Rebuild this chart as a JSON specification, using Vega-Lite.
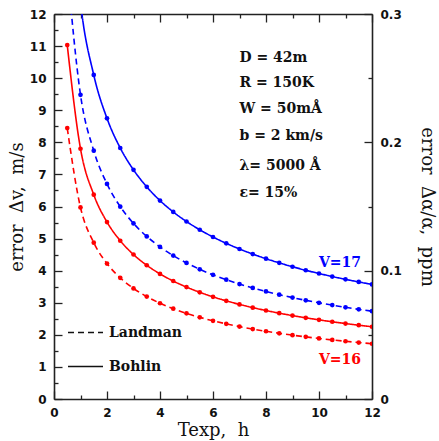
{
  "$schema": "https://vega.github.io/schema/vega-lite/v6.json",
  "width": 318,
  "height": 385,
  "autosize": {"type": "none"},
  "padding": {"left": 54, "top": 14, "right": 67, "bottom": 42},
  "background": "white",
  "config": {
    "view": {"stroke": null},
    "axis": {
      "grid": false,
      "domainColor": "#222",
      "domainWidth": 1.6,
      "tickColor": "#222",
      "tickWidth": 1.3,
      "labelFont": "DejaVu Sans",
      "labelFontSize": 12,
      "labelFontWeight": "bold",
      "labelColor": "#111",
      "labelFlush": false,
      "labelOverlap": false,
      "titleFont": "DejaVu Serif",
      "titleFontSize": 18,
      "titleFontWeight": "normal",
      "titleColor": "#111"
    }
  },
  "datasets": {
    "curves": [
      {"t": 0.5, "err": 11.031, "V": "V=16", "method": "Bohlin"},
      {"t": 1.0, "err": 7.800, "V": "V=16", "method": "Bohlin"},
      {"t": 1.5, "err": 6.369, "V": "V=16", "method": "Bohlin"},
      {"t": 2.0, "err": 5.515, "V": "V=16", "method": "Bohlin"},
      {"t": 2.5, "err": 4.933, "V": "V=16", "method": "Bohlin"},
      {"t": 3.0, "err": 4.503, "V": "V=16", "method": "Bohlin"},
      {"t": 3.5, "err": 4.169, "V": "V=16", "method": "Bohlin"},
      {"t": 4.0, "err": 3.900, "V": "V=16", "method": "Bohlin"},
      {"t": 4.5, "err": 3.677, "V": "V=16", "method": "Bohlin"},
      {"t": 5.0, "err": 3.488, "V": "V=16", "method": "Bohlin"},
      {"t": 5.5, "err": 3.326, "V": "V=16", "method": "Bohlin"},
      {"t": 6.0, "err": 3.184, "V": "V=16", "method": "Bohlin"},
      {"t": 6.5, "err": 3.059, "V": "V=16", "method": "Bohlin"},
      {"t": 7.0, "err": 2.948, "V": "V=16", "method": "Bohlin"},
      {"t": 7.5, "err": 2.848, "V": "V=16", "method": "Bohlin"},
      {"t": 8.0, "err": 2.758, "V": "V=16", "method": "Bohlin"},
      {"t": 8.5, "err": 2.675, "V": "V=16", "method": "Bohlin"},
      {"t": 9.0, "err": 2.600, "V": "V=16", "method": "Bohlin"},
      {"t": 9.5, "err": 2.531, "V": "V=16", "method": "Bohlin"},
      {"t": 10.0, "err": 2.467, "V": "V=16", "method": "Bohlin"},
      {"t": 10.5, "err": 2.407, "V": "V=16", "method": "Bohlin"},
      {"t": 11.0, "err": 2.352, "V": "V=16", "method": "Bohlin"},
      {"t": 11.5, "err": 2.300, "V": "V=16", "method": "Bohlin"},
      {"t": 12.0, "err": 2.252, "V": "V=16", "method": "Bohlin"},
      {"t": 0.5, "err": 8.443, "V": "V=16", "method": "Landman"},
      {"t": 1.0, "err": 5.970, "V": "V=16", "method": "Landman"},
      {"t": 1.5, "err": 4.874, "V": "V=16", "method": "Landman"},
      {"t": 2.0, "err": 4.221, "V": "V=16", "method": "Landman"},
      {"t": 2.5, "err": 3.776, "V": "V=16", "method": "Landman"},
      {"t": 3.0, "err": 3.447, "V": "V=16", "method": "Landman"},
      {"t": 3.5, "err": 3.191, "V": "V=16", "method": "Landman"},
      {"t": 4.0, "err": 2.985, "V": "V=16", "method": "Landman"},
      {"t": 4.5, "err": 2.814, "V": "V=16", "method": "Landman"},
      {"t": 5.0, "err": 2.670, "V": "V=16", "method": "Landman"},
      {"t": 5.5, "err": 2.546, "V": "V=16", "method": "Landman"},
      {"t": 6.0, "err": 2.437, "V": "V=16", "method": "Landman"},
      {"t": 6.5, "err": 2.342, "V": "V=16", "method": "Landman"},
      {"t": 7.0, "err": 2.256, "V": "V=16", "method": "Landman"},
      {"t": 7.5, "err": 2.180, "V": "V=16", "method": "Landman"},
      {"t": 8.0, "err": 2.111, "V": "V=16", "method": "Landman"},
      {"t": 8.5, "err": 2.048, "V": "V=16", "method": "Landman"},
      {"t": 9.0, "err": 1.990, "V": "V=16", "method": "Landman"},
      {"t": 9.5, "err": 1.937, "V": "V=16", "method": "Landman"},
      {"t": 10.0, "err": 1.888, "V": "V=16", "method": "Landman"},
      {"t": 10.5, "err": 1.842, "V": "V=16", "method": "Landman"},
      {"t": 11.0, "err": 1.800, "V": "V=16", "method": "Landman"},
      {"t": 11.5, "err": 1.760, "V": "V=16", "method": "Landman"},
      {"t": 12.0, "err": 1.723, "V": "V=16", "method": "Landman"},
      {"t": 0.5, "err": 17.494, "V": "V=17", "method": "Bohlin"},
      {"t": 1.0, "err": 12.370, "V": "V=17", "method": "Bohlin"},
      {"t": 1.5, "err": 10.100, "V": "V=17", "method": "Bohlin"},
      {"t": 2.0, "err": 8.747, "V": "V=17", "method": "Bohlin"},
      {"t": 2.5, "err": 7.823, "V": "V=17", "method": "Bohlin"},
      {"t": 3.0, "err": 7.142, "V": "V=17", "method": "Bohlin"},
      {"t": 3.5, "err": 6.612, "V": "V=17", "method": "Bohlin"},
      {"t": 4.0, "err": 6.185, "V": "V=17", "method": "Bohlin"},
      {"t": 4.5, "err": 5.831, "V": "V=17", "method": "Bohlin"},
      {"t": 5.0, "err": 5.532, "V": "V=17", "method": "Bohlin"},
      {"t": 5.5, "err": 5.275, "V": "V=17", "method": "Bohlin"},
      {"t": 6.0, "err": 5.050, "V": "V=17", "method": "Bohlin"},
      {"t": 6.5, "err": 4.852, "V": "V=17", "method": "Bohlin"},
      {"t": 7.0, "err": 4.675, "V": "V=17", "method": "Bohlin"},
      {"t": 7.5, "err": 4.517, "V": "V=17", "method": "Bohlin"},
      {"t": 8.0, "err": 4.373, "V": "V=17", "method": "Bohlin"},
      {"t": 8.5, "err": 4.243, "V": "V=17", "method": "Bohlin"},
      {"t": 9.0, "err": 4.123, "V": "V=17", "method": "Bohlin"},
      {"t": 9.5, "err": 4.013, "V": "V=17", "method": "Bohlin"},
      {"t": 10.0, "err": 3.912, "V": "V=17", "method": "Bohlin"},
      {"t": 10.5, "err": 3.817, "V": "V=17", "method": "Bohlin"},
      {"t": 11.0, "err": 3.730, "V": "V=17", "method": "Bohlin"},
      {"t": 11.5, "err": 3.648, "V": "V=17", "method": "Bohlin"},
      {"t": 12.0, "err": 3.571, "V": "V=17", "method": "Bohlin"},
      {"t": 0.5, "err": 13.407, "V": "V=17", "method": "Landman"},
      {"t": 1.0, "err": 9.480, "V": "V=17", "method": "Landman"},
      {"t": 1.5, "err": 7.740, "V": "V=17", "method": "Landman"},
      {"t": 2.0, "err": 6.703, "V": "V=17", "method": "Landman"},
      {"t": 2.5, "err": 5.996, "V": "V=17", "method": "Landman"},
      {"t": 3.0, "err": 5.473, "V": "V=17", "method": "Landman"},
      {"t": 3.5, "err": 5.067, "V": "V=17", "method": "Landman"},
      {"t": 4.0, "err": 4.740, "V": "V=17", "method": "Landman"},
      {"t": 4.5, "err": 4.469, "V": "V=17", "method": "Landman"},
      {"t": 5.0, "err": 4.240, "V": "V=17", "method": "Landman"},
      {"t": 5.5, "err": 4.042, "V": "V=17", "method": "Landman"},
      {"t": 6.0, "err": 3.870, "V": "V=17", "method": "Landman"},
      {"t": 6.5, "err": 3.718, "V": "V=17", "method": "Landman"},
      {"t": 7.0, "err": 3.583, "V": "V=17", "method": "Landman"},
      {"t": 7.5, "err": 3.462, "V": "V=17", "method": "Landman"},
      {"t": 8.0, "err": 3.352, "V": "V=17", "method": "Landman"},
      {"t": 8.5, "err": 3.252, "V": "V=17", "method": "Landman"},
      {"t": 9.0, "err": 3.160, "V": "V=17", "method": "Landman"},
      {"t": 9.5, "err": 3.076, "V": "V=17", "method": "Landman"},
      {"t": 10.0, "err": 2.998, "V": "V=17", "method": "Landman"},
      {"t": 10.5, "err": 2.926, "V": "V=17", "method": "Landman"},
      {"t": 11.0, "err": 2.858, "V": "V=17", "method": "Landman"},
      {"t": 11.5, "err": 2.795, "V": "V=17", "method": "Landman"},
      {"t": 12.0, "err": 2.737, "V": "V=17", "method": "Landman"}
    ],
    "notes": [
      {"label": "D = 42m", "x": 7.0, "y": 10.63},
      {"label": "R = 150K", "x": 7.0, "y": 9.85},
      {"label": "W = 50mÅ", "x": 7.0, "y": 9.04},
      {"label": "b = 2 km/s", "x": 7.0, "y": 8.2},
      {"label": "λ= 5000 Å", "x": 7.0, "y": 7.27},
      {"label": "ε= 15%", "x": 7.0, "y": 6.42}
    ],
    "vlabels": [
      {"V": "V=17", "x": 10.0, "y": 4.25},
      {"V": "V=16", "x": 10.0, "y": 1.23}
    ]
  },
  "layer": [
    {
      "data": {"name": "curves"},
      "mark": {"type": "line", "clip": true, "strokeWidth": 1.6, "interpolate": "monotone"},
      "encoding": {
        "x": {"field": "t", "type": "quantitative",
              "scale": {"domain": [0, 12], "nice": false, "zero": false},
              "axis": {"orient": "bottom", "values": [0, 2, 4, 6, 8, 10, 12], "tickSize": -8, "labelPadding": 16, "title": "Texp,\u00a0 h", "titlePadding": 3}},
        "y": {"field": "err", "type": "quantitative",
              "scale": {"domain": [0, 12], "nice": false, "zero": false},
              "axis": {"orient": "left", "values": [0, 1, 2, 3, 4, 5, 6, 7, 8, 9, 10, 11, 12], "tickSize": -8, "labelPadding": 16, "title": "error\u00a0 Δv,\u00a0 m/s", "titlePadding": 3}},
        "color": {"field": "V", "type": "nominal",
                  "scale": {"domain": ["V=17", "V=16"], "range": ["#0000ff", "#ff0000"]},
                  "legend": null},
        "strokeDash": {"field": "method", "type": "nominal",
                       "scale": {"domain": ["Landman", "Bohlin"], "range": [[6, 4], [1, 0]]},
                       "legend": {"orient": "none", "legendX": 13, "legendY": 300, "title": null, "padding": 0,
                                  "symbolType": "stroke", "symbolSize": 1225, "symbolStrokeColor": "#111", "symbolStrokeWidth": 1.5,
                                  "labelFont": "DejaVu Serif", "labelFontSize": 14, "labelFontWeight": "bold", "labelColor": "#111",
                                  "labelOffset": 5, "rowPadding": 8}}
      }
    },
    {
      "data": {"name": "curves"},
      "mark": {"type": "point", "filled": true, "size": 22, "opacity": 1, "clip": true},
      "encoding": {
        "x": {"field": "t", "type": "quantitative",
              "scale": {"domain": [0, 12], "nice": false, "zero": false},
              "axis": {"orient": "bottom", "values": [1, 3, 5, 7, 9, 11], "tickSize": -4, "labels": false, "domain": false, "title": null}},
        "y": {"field": "err", "type": "quantitative",
              "scale": {"domain": [0, 12], "nice": false, "zero": false},
              "axis": {"orient": "left", "values": [0.5, 1.5, 2.5, 3.5, 4.5, 5.5, 6.5, 7.5, 8.5, 9.5, 10.5, 11.5], "tickSize": -4, "labels": false, "domain": false, "title": null}},
        "color": {"field": "V", "type": "nominal", "legend": null}
      }
    },
    {
      "data": {"name": "notes"},
      "mark": {"type": "text", "align": "left", "baseline": "middle", "font": "DejaVu Serif", "fontSize": 14, "fontWeight": "bold", "color": "#111"},
      "encoding": {
        "x": {"field": "x", "type": "quantitative",
              "scale": {"domain": [0, 12], "nice": false, "zero": false},
              "axis": {"orient": "top", "values": [0, 2, 4, 6, 8, 10, 12], "tickSize": -8, "labels": false, "title": null}},
        "y": {"field": "y", "type": "quantitative",
              "scale": {"domain": [0, 12], "nice": false, "zero": false},
              "axis": {"orient": "right", "values": [0, 4, 8, 12], "tickSize": -8, "labelPadding": 16,
                       "labelExpr": "datum.value == 0 ? '0' : format(datum.value / 40, '.1f')",
                       "title": "error\u00a0 Δα/α,\u00a0 ppm", "titlePadding": 16}},
        "text": {"field": "label"}
      }
    },
    {
      "data": {"name": "vlabels"},
      "mark": {"type": "text", "align": "left", "baseline": "middle", "font": "DejaVu Serif", "fontSize": 14, "fontWeight": "bold"},
      "encoding": {
        "x": {"field": "x", "type": "quantitative",
              "scale": {"domain": [0, 12], "nice": false, "zero": false},
              "axis": {"orient": "top", "values": [1, 3, 5, 7, 9, 11], "tickSize": -4, "labels": false, "domain": false, "title": null}},
        "y": {"field": "y", "type": "quantitative",
              "scale": {"domain": [0, 12], "nice": false, "zero": false},
              "axis": {"orient": "right", "values": [2, 6, 10], "tickSize": -4, "labels": false, "domain": false, "title": null}},
        "color": {"field": "V", "type": "nominal", "legend": null},
        "text": {"field": "V"}
      }
    }
  ],
  "resolve": {"axis": {"x": "independent", "y": "independent"}}
}
